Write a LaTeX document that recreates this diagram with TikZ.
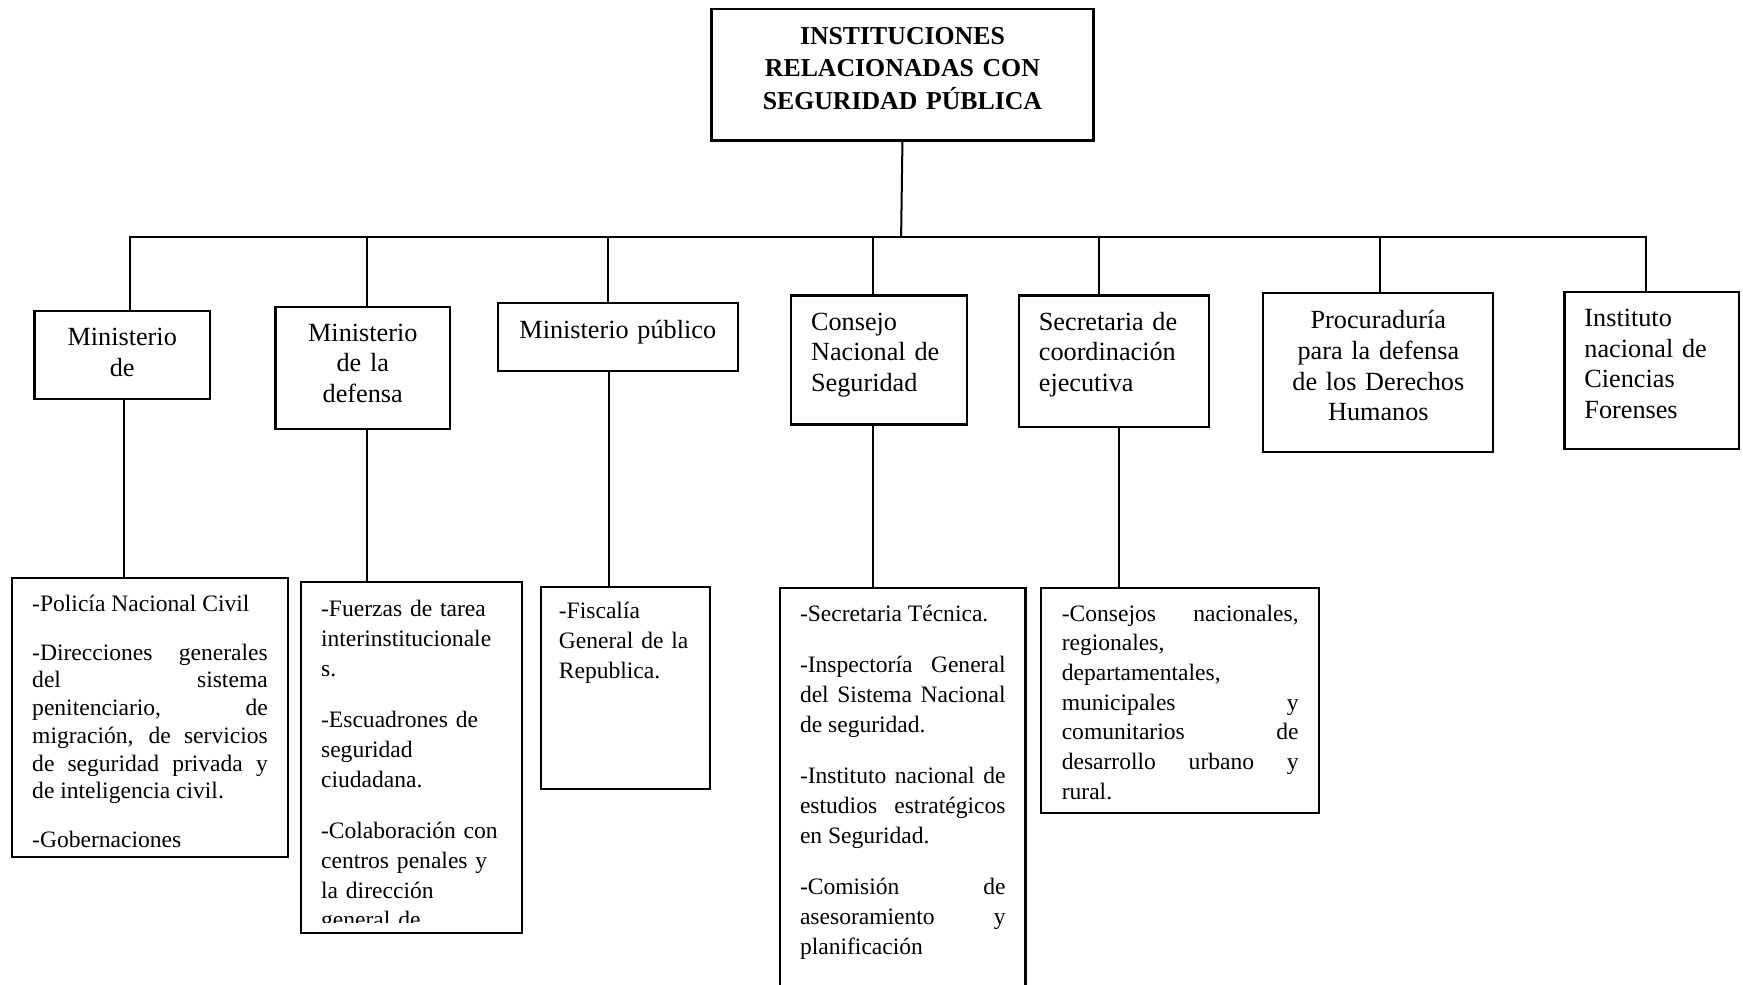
\documentclass[tikz,border=0pt]{standalone}
\usepackage{fontspec}
\setmainfont{Liberation Serif}

\begin{document}
\begin{tikzpicture}[x=0.5pt, y=-0.5pt,
    topbox/.style={draw, line width=1.2pt, anchor=north west, inner ysep=0pt, inner xsep=6pt, align=center, font=\fontsize{11.6}{14.75}\selectfont\bfseries},
    headbox/.style={draw, line width=1pt, anchor=north west, inner ysep=0pt, inner xsep=9pt, font=\fontsize{11.8}{13.75}\selectfont},
    listbox/.style={draw, line width=1pt, anchor=north west, inner ysep=0pt, inner xsep=9pt, font=\fontsize{10.6}{13.35}\selectfont,
        execute at begin node={\setlength{\parskip}{9.9pt}\tolerance=10000\hbadness=10000\hyphenpenalty=10000\exhyphenpenalty=10000}},
    link/.style={line width=0.9pt}]
    \useasboundingbox (0,0) rectangle (1568.7,885.6);
    \node[topbox, text width=160pt, text height=15.75pt, text depth=43.25pt] (isp) at (639,7) {INSTITUCIONES\\RELACIONADAS CON\\SEGURIDAD PÚBLICA};
    \node[headbox, align=center, text width=61pt, text height=15.5pt, text depth=24pt] (mde) at (30,279) {Ministerio\\de};
    \node[headbox, align=center, text width=60.5pt, text height=15.5pt, text depth=39.5pt] (mdd) at (247,275) {Ministerio\\de la\\defensa};
    \node[headbox, align=center, text width=90pt, text height=16pt, text depth=14.5pt] (mpu) at (447,272) {Ministerio público};
    \node[headbox, align=left, text width=61pt, text height=15.5pt, text depth=42.5pt] (cns) at (711,265) {Consejo\\Nacional de\\Seguridad};
    \node[headbox, align=left, text width=67.5pt, text height=15.5pt, text depth=43.5pt] (sce) at (916,265) {Secretaria de\\coordinación\\ejecutiva};
    \node[headbox, align=center, text width=85.5pt, text height=16pt, text depth=55.5pt] (pdh) at (1136,263) {Procuraduría\\para la defensa\\de los Derechos\\Humanos};
    \node[headbox, align=left, text width=60.5pt, text height=15.5pt, text depth=55pt] (inc) at (1407,262) {Instituto\\nacional de\\Ciencias\\Forenses};

    \node[listbox, align=justify, font=\fontsize{10.6}{12.5}\selectfont, text width=106pt, text height=15pt, text depth=110.5pt,
        execute at begin node={\setlength{\parskip}{9.5pt}}] (pnc) at (10,519)
        {-Policía Nacional Civil\par
        -Direcciones generales\linebreak del sistema\linebreak penitenciario, de\linebreak migración, de servicios\linebreak de seguridad privada y\linebreak de inteligencia civil.\par
        -Gobernaciones};
    \begin{scope}
        \clip (265,515) rectangle (475,830);
        \node[listbox, draw=none, inner xsep=8.5pt, text width=81.5pt, text height=15pt, text depth=142pt] (fzt) at (271,524)
            {-Fuerzas de tarea\\interinstitucionale\\s.\par
            -Escuadrones de\\seguridad\\ciudadana.\par
            -Colaboración con\\centros penales y\\la dirección\\general de};
    \end{scope}
    \draw[line width=1pt] (fzt.north west) rectangle (fzt.south east);
    \node[listbox, inner xsep=8pt, text width=60pt, text height=14.5pt, text depth=76.5pt] (fgr) at (486,527) {-Fiscalía\\General de la\\Republica.};
    \node[listbox, align=justify, text width=92.5pt, text height=15pt, text depth=180pt] (stc) at (701,528)
        {-Secretaria Técnica.\par
        -Inspectoría General\linebreak del Sistema Nacional\linebreak de seguridad.\par
        -Instituto nacional de\linebreak estudios estratégicos\linebreak en Seguridad.\par
        -Comisión de\linebreak asesoramiento y\linebreak planificación};
    \node[listbox, align=justify, inner xsep=9.3pt, text width=106.6pt, text height=15pt, text depth=86.5pt] (cnr) at (936,528)
        {-Consejos nacionales,\linebreak regionales,\linebreak departamentales,\linebreak municipales y\linebreak comunitarios de\linebreak desarrollo urbano y\linebreak rural.};

    \coordinate (bus) at (811,213);
    \draw[link] (isp.south) -- (bus);
    \draw[link] ([xshift=3.5pt]mde.north) |- (bus);
    \draw[link] ([xshift=1.75pt]mdd.north) |- (bus);
    \draw[link] ([xshift=-4.5pt]mpu.north) |- (bus);
    \draw[link] ([xshift=-2.5pt]cns.north) |- (bus);
    \draw[link] ([xshift=-6.75pt]sce.north) |- (bus);
    \draw[link] ([xshift=0.75pt]pdh.north) |- (bus);
    \draw[link] ([xshift=-2.75pt]inc.north) |- (bus);
    \draw[link] ([xshift=1pt]mde.south) -- ([xshift=1pt]mde.south |- pnc.north);
    \draw[link] ([xshift=1.75pt]mdd.south) -- ([xshift=1.75pt]mdd.south |- fzt.north);
    \draw[link] ([xshift=-3.75pt]mpu.south) -- ([xshift=-3.75pt]mpu.south |- fgr.north);
    \draw[link] ([xshift=-2.5pt]cns.south) -- ([xshift=-2.5pt]cns.south |- stc.north);
    \draw[link] ([xshift=2.25pt]sce.south) -- ([xshift=2.25pt]sce.south |- cnr.north);
\end{tikzpicture}
\end{document}
